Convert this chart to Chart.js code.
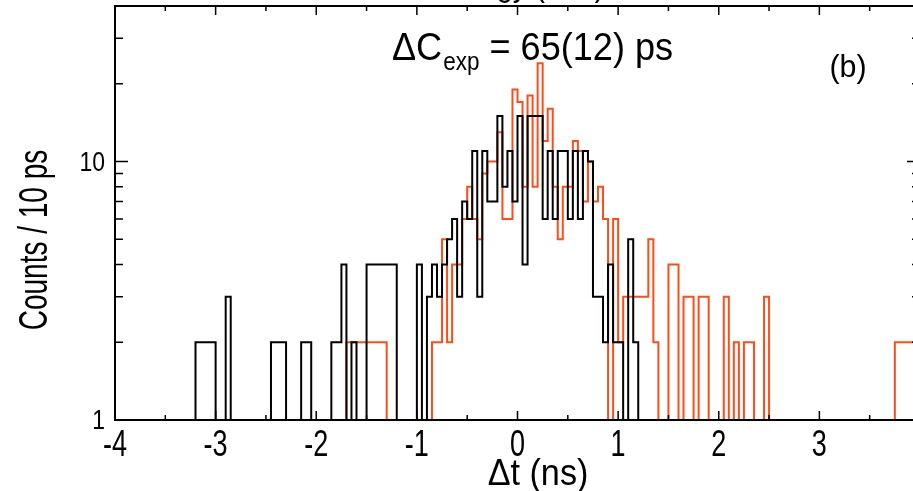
<!DOCTYPE html>
<html>
<head>
<meta charset="utf-8">
<script src="https://cdn.jsdelivr.net/npm/chart.js@4.4.1/dist/chart.umd.min.js"></script>
<style>
  html, body { margin: 0; padding: 0; background: #fff; overflow: hidden; }
  #wrap { width: 935px; height: 491px; }
</style>
</head>
<body>
<div id="wrap"><canvas id="histChart" width="935" height="491"></canvas></div>
<script>
// histogram binning (ns)
const binStart = -4;
const binWidth = 0.05;
const xTicks = [-4, -3, -2, -1, 0, 1, 2, 3, 4];
const yLabelled = [1, 10];
const yTickMarks = [2, 3, 4, 5, 6, 7, 8, 9, 10, 20, 30, 40];

// counts per bin, 160 bins from -4 to 4 ns (empty bins sit on the 1 line)
const blackCounts = [
  1, 1, 1, 1, 1, 1, 1, 1, 1, 1, 1, 1, 1, 1, 1, 1, 2, 2, 2, 2,
  1, 1, 3, 1, 1, 1, 1, 1, 1, 1, 1, 2, 2, 2, 1, 1, 1, 2, 2, 1,
  1, 1, 1, 2, 2, 4, 1, 2, 1, 1, 4, 4, 4, 4, 4, 4, 1, 1, 1, 1,
  4, 1, 3, 4, 3, 4, 5, 6, 3, 7, 6, 11, 3, 11, 7, 7, 15, 8, 11, 7,
  15, 4, 15, 15, 15, 6, 11, 6, 11, 11, 6, 11, 6, 11, 10, 3, 3, 2, 4, 2,
  2, 1, 5, 2, 1, 1, 1, 1, 1, 1, 1, 1, 1, 1, 1, 1, 1, 1, 1, 1,
  1, 1, 1, 1, 1, 1, 1, 1, 1, 1, 1, 1, 1, 1, 1, 1, 1, 1, 1, 1,
  1, 1, 1, 1, 1, 1, 1, 1, 1, 1, 1, 1, 1, 1, 1, 1, 1, 1, 1, 1
];
const orangeCounts = [
  1, 1, 1, 1, 1, 1, 1, 1, 1, 1, 1, 1, 1, 1, 1, 1, 1, 1, 1, 1,
  1, 1, 1, 1, 1, 1, 1, 1, 1, 1, 1, 1, 1, 1, 1, 1, 1, 1, 1, 1,
  1, 1, 1, 1, 1, 1, 2, 2, 2, 2, 2, 2, 2, 2, 1, 1, 1, 1, 1, 1,
  1, 1, 1, 2, 2, 5, 2, 4, 4, 6, 8, 6, 5, 9, 10, 10, 13, 6, 6, 19,
  17, 8, 18, 8, 24, 12, 16, 8, 5, 8, 8, 12, 11, 7, 10, 7, 8, 6, 1, 6,
  2, 3, 3, 3, 3, 3, 5, 2, 1, 1, 4, 4, 1, 3, 3, 1, 3, 3, 1, 1,
  1, 3, 1, 2, 1, 2, 2, 1, 1, 3, 1, 1, 1, 1, 1, 1, 1, 1, 1, 1,
  1, 1, 1, 1, 1, 1, 1, 1, 1, 1, 1, 1, 1, 1, 1, 2, 2, 2, 2, 2
];

const fontFam = "'Liberation Sans', Arial, sans-serif";

// left bin edges as points, plus the closing edge, for a stepped line
function toSteps(counts) {
  const pts = counts.map((c, k) => ({x: binStart + k * binWidth, y: c}));
  pts.push({x: binStart + counts.length * binWidth, y: counts[counts.length - 1]});
  return pts;
}

// text squeezed sideways to look like the narrow font of the figure
function drawText(ctx, text, x, y, size, squeeze, align) {
  ctx.save();
  ctx.font = size + 'px ' + fontFam;
  ctx.translate(x, y);
  ctx.scale(squeeze, 1);
  ctx.textAlign = align;
  ctx.textBaseline = 'alphabetic';
  ctx.fillText(text, 0, 0);
  const w = ctx.measureText(text).width * squeeze;
  ctx.restore();
  return w;
}

// box frame with inward ticks on all four sides, plus tick labels
const frameTicks = {
  id: 'frameTicks',
  afterDraw(chart) {
    const {ctx, chartArea: a, scales: {x, y}} = chart;
    ctx.save();
    ctx.strokeStyle = '#000';
    ctx.fillStyle = '#000';
    ctx.lineWidth = 1.5;
    ctx.beginPath();
    for (let v = -4; v <= 4; v += 0.5) {
      const px = x.getPixelForValue(v);
      const len = Number.isInteger(v) ? 9 : 5;
      ctx.moveTo(px, a.bottom); ctx.lineTo(px, a.bottom - len);
      ctx.moveTo(px, a.top); ctx.lineTo(px, a.top + len);
    }
    yTickMarks.forEach(v => {
      const py = y.getPixelForValue(v);
      const len = v === 10 ? 13 : 8;
      ctx.moveTo(a.left, py); ctx.lineTo(a.left + len, py);
      ctx.moveTo(a.right, py); ctx.lineTo(a.right - len, py);
    });
    ctx.stroke();
    ctx.lineWidth = 2;
    ctx.strokeRect(a.left, a.top, a.right - a.left, a.bottom - a.top);

    xTicks.forEach(v => {
      drawText(ctx, String(v), x.getPixelForValue(v), 456, 36, 0.75, 'center');
    });
    yLabelled.forEach(v => {
      drawText(ctx, String(v), a.left - 10, y.getPixelForValue(v) + 9, 27, 0.85, 'right');
    });
    ctx.restore();
  }
};

// axis titles and annotations
const textPlugin = {
  id: 'textPlugin',
  afterDraw(chart) {
    const ctx = chart.ctx;
    ctx.save();
    ctx.fillStyle = '#000';

    // y axis title
    ctx.save();
    ctx.translate(47, 240);
    ctx.rotate(-Math.PI / 2);
    drawText(ctx, 'Counts / 10 ps', 0, 0, 40, 0.7, 'center');
    ctx.restore();

    // x axis title
    drawText(ctx, '\u0394t (ns)', 538, 485, 36, 0.95, 'center');

    // Delta C_exp label
    let xPos = 392;
    xPos += drawText(ctx, '\u0394C', xPos, 60, 38, 0.95, 'left') + 1;
    xPos += drawText(ctx, 'exp', xPos, 70, 25, 0.9, 'left');
    drawText(ctx, ' = 65(12) ps', xPos, 60, 38, 0.95, 'left');

    drawText(ctx, '(b)', 848, 77, 32, 0.95, 'center');

    // title of the panel above, cut by the top edge
    drawText(ctx, 'Energy (keV)', 520, -4, 34, 0.85, 'center');
    ctx.restore();
  }
};

new Chart(document.getElementById('histChart'), {
  type: 'line',
  data: {
    datasets: [
      {
        label: 'black',
        data: toSteps(blackCounts),
        borderColor: '#000000',
        borderWidth: 2,
        stepped: true,
        pointRadius: 0,
        fill: false,
        order: 0
      },
      {
        label: 'orange',
        data: toSteps(orangeCounts),
        borderColor: '#ff4d1a',
        borderWidth: 2,
        stepped: true,
        pointRadius: 0,
        fill: false,
        order: 1
      }
    ]
  },
  options: {
    responsive: false,
    animation: false,
    layout: {padding: {top: 6, right: 15, left: 0, bottom: 0}},
    plugins: {legend: {display: false}, tooltip: {enabled: false}},
    scales: {
      x: {
        type: 'linear',
        min: -4,
        max: 4,
        afterBuildTicks: s => { s.ticks = xTicks.map(v => ({value: v})); },
        afterFit: s => { s.height = 71; },
        grid: {display: false, drawTicks: false},
        border: {display: false},
        ticks: {display: false}
      },
      y: {
        type: 'logarithmic',
        min: 1,
        max: 40,
        afterBuildTicks: s => { s.ticks = yLabelled.map(v => ({value: v})); },
        afterFit: s => { s.width = 115; },
        grid: {display: false, drawTicks: false},
        border: {display: false},
        ticks: {display: false}
      }
    }
  },
  plugins: [frameTicks, textPlugin]
});
</script>
</body>
</html>
